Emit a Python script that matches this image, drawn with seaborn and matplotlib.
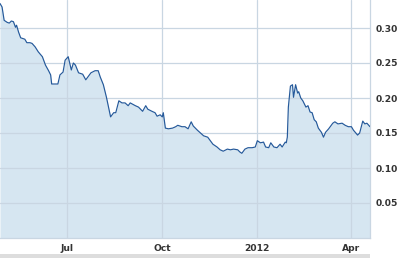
import matplotlib
matplotlib.use("Agg")
import matplotlib.pyplot as plt
from matplotlib.patches import Rectangle
import seaborn as sns
import pandas as pd

dates = [
    "2011-04-27", "2011-04-29", "2011-05-01", "2011-05-04", "2011-05-06", "2011-05-08",
    "2011-05-10", "2011-05-12", "2011-05-13", "2011-05-15", "2011-05-17", "2011-05-21",
    "2011-05-23", "2011-05-26", "2011-05-28", "2011-05-31", "2011-06-03", "2011-06-07",
    "2011-06-10", "2011-06-13", "2011-06-15", "2011-06-16", "2011-06-22", "2011-06-24",
    "2011-06-27", "2011-06-29", "2011-07-02", "2011-07-05", "2011-07-07", "2011-07-09",
    "2011-07-12", "2011-07-16", "2011-07-19", "2011-07-21", "2011-07-24", "2011-07-28",
    "2011-07-31", "2011-08-02", "2011-08-05", "2011-08-08", "2011-08-12", "2011-08-15",
    "2011-08-17", "2011-08-20", "2011-08-23", "2011-08-26", "2011-08-29", "2011-08-31",
    "2011-09-05", "2011-09-08", "2011-09-12", "2011-09-15", "2011-09-17", "2011-09-21",
    "2011-09-24", "2011-09-26", "2011-09-29", "2011-10-01", "2011-10-02", "2011-10-04",
    "2011-10-07", "2011-10-11", "2011-10-14", "2011-10-16", "2011-10-20", "2011-10-23",
    "2011-10-26", "2011-10-29", "2011-10-31", "2011-11-04", "2011-11-07", "2011-11-10",
    "2011-11-14", "2011-11-16", "2011-11-19", "2011-11-23", "2011-11-26", "2011-11-29",
    "2011-12-03", "2011-12-06", "2011-12-09", "2011-12-13", "2011-12-15", "2011-12-17",
    "2011-12-20", "2011-12-23", "2011-12-27", "2011-12-30", "2012-01-01", "2012-01-04",
    "2012-01-07", "2012-01-09", "2012-01-12", "2012-01-14", "2012-01-17", "2012-01-20",
    "2012-01-23", "2012-01-25", "2012-01-28", "2012-01-29", "2012-01-30", "2012-01-31",
    "2012-02-02", "2012-02-04", "2012-02-05", "2012-02-07", "2012-02-09", "2012-02-10",
    "2012-02-12", "2012-02-14", "2012-02-17", "2012-02-19", "2012-02-21", "2012-02-23",
    "2012-02-25", "2012-02-27", "2012-02-29", "2012-03-03", "2012-03-05", "2012-03-07",
    "2012-03-10", "2012-03-14", "2012-03-16", "2012-03-19", "2012-03-23", "2012-03-26",
    "2012-03-29", "2012-04-01", "2012-04-03", "2012-04-07", "2012-04-09", "2012-04-12",
    "2012-04-14", "2012-04-16", "2012-04-19",
]
prices = [
    0.335, 0.330, 0.311, 0.308, 0.307, 0.310,
    0.309, 0.301, 0.304, 0.294, 0.286, 0.284,
    0.279, 0.279, 0.278, 0.273, 0.266, 0.259,
    0.247, 0.239, 0.233, 0.220, 0.220, 0.233,
    0.237, 0.254, 0.259, 0.240, 0.250, 0.247,
    0.236, 0.234, 0.226, 0.230, 0.236, 0.239,
    0.239, 0.230, 0.219, 0.201, 0.173, 0.179,
    0.179, 0.196, 0.193, 0.193, 0.189, 0.193,
    0.189, 0.187, 0.181, 0.189, 0.184, 0.181,
    0.179, 0.174, 0.176, 0.173, 0.179, 0.157,
    0.156, 0.157, 0.159, 0.161, 0.159, 0.159,
    0.156, 0.166, 0.160, 0.154, 0.150, 0.146,
    0.144, 0.140, 0.134, 0.130, 0.126, 0.124,
    0.127, 0.126, 0.127, 0.126, 0.123, 0.121,
    0.127, 0.129, 0.129, 0.130, 0.139, 0.136,
    0.137, 0.130, 0.129, 0.136, 0.130, 0.129,
    0.134, 0.130, 0.137, 0.136, 0.144, 0.187,
    0.217, 0.219, 0.201, 0.219, 0.207, 0.209,
    0.200, 0.196, 0.187, 0.189, 0.180, 0.179,
    0.169, 0.166, 0.157, 0.151, 0.144, 0.151,
    0.156, 0.164, 0.166, 0.163, 0.164, 0.161,
    0.159, 0.159, 0.154, 0.147, 0.150, 0.167,
    0.163, 0.164, 0.159,
]
y_ticks = [0.05, 0.10, 0.15, 0.20, 0.25, 0.30]
x_tick_dates = ["2011-07-01", "2011-10-01", "2012-01-01", "2012-04-01"]
x_tick_labels = ["Jul", "Oct", "2012", "Apr"]

df = pd.DataFrame({"date": pd.to_datetime(dates), "price": prices})

sns.set_style("white")
plt.rcParams["font.family"] = ["DejaVu Sans"]

fig = plt.figure(figsize=(4.0, 2.58), dpi=100)
ax = fig.add_axes([0.0, 1 - 238 / 258, 370 / 400, 238 / 258])

line_color = "#25599a"
fill_color = "#d6e6f1"
grid_color = "#c9d6e2"

ax.fill_between(df["date"], df["price"], 0, color=fill_color, linewidth=0, zorder=1)
sns.lineplot(data=df, x="date", y="price", ax=ax, color=line_color, linewidth=0.85, zorder=3)

ax.set_xlim(pd.Timestamp("2011-04-27"), pd.Timestamp("2012-04-19"))
ax.set_ylim(0, 0.34)

ax.yaxis.tick_right()
ax.set_yticks(y_ticks)
ax.set_yticklabels([f"{v:.2f}" for v in y_ticks])
ax.set_xticks(pd.to_datetime(x_tick_dates))
ax.set_xticklabels(x_tick_labels)
ax.set_xlabel("")
ax.set_ylabel("")

ax.grid(True, color=grid_color, linewidth=0.9, zorder=2)
ax.set_axisbelow(False)
for gl in ax.get_xgridlines() + ax.get_ygridlines():
    gl.set_zorder(2)

ax.tick_params(axis="both", length=0, labelsize=6.6, colors="#333333")
ax.tick_params(axis="y", pad=4)
ax.tick_params(axis="x", pad=4)
for lab in ax.get_xticklabels() + ax.get_yticklabels():
    lab.set_fontweight("bold")

for side in ["left", "top"]:
    ax.spines[side].set_visible(False)
for side in ["right", "bottom"]:
    ax.spines[side].set_color(grid_color)
    ax.spines[side].set_linewidth(0.9)

fig.patches.append(Rectangle((0, 0), 370 / 400, 4 / 258, transform=fig.transFigure,
                             facecolor="#dddddd", edgecolor="none"))

fig.savefig("out.png", dpi=100)
